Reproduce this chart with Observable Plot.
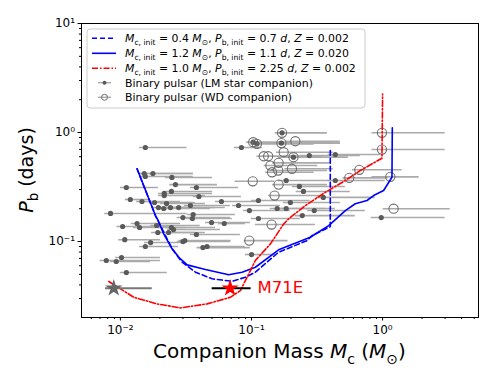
<!DOCTYPE html>
<html><head><meta charset="utf-8">
<script src="https://cdn.jsdelivr.net/npm/d3@7"></script>
<script src="https://cdn.jsdelivr.net/npm/@observablehq/plot@0.6"></script>
<style>body{margin:0;background:#fff;} #chart svg{font-family:"DejaVu Sans",sans-serif;}</style>
</head><body><div id="chart"></div>
<script>
// Binary pulsars with low-mass star companions: mass (Msun), Pb (days), mass range low/high
const lmMass = [0.0155,0.0838,0.0152,0.0155,0.0177,0.0247,0.0111,0.0263,0.0380,0.0216,0.0216,0.0245,0.0397,0.0119,0.0146,0.0182,0.0225,0.0195,0.0214,0.0241,0.0278,0.0342,0.0590,0.0796,0.0964,0.00841,0.0300,0.0359,0.0354,0.0104,0.0134,0.0140,0.0189,0.0245,0.0254,0.0193,0.0233,0.0496,0.0620,0.0108,0.0170,0.0155,0.0300,0.0310,0.0380,0.0426,0.0458,0.1001,0.0102,0.00781,0.0093,0.0111,0.276,0.436,0.184,0.232,0.249,0.436,0.353,0.113,0.198,0.157,0.184,0.301,0.244,0.113,0.977,0.103,0.110,0.171,0.169,0.209];
const lmPb   = [0.729,0.729,0.421,0.395,0.421,0.387,0.313,0.333,0.313,0.276,0.264,0.288,0.259,0.243,0.233,0.228,0.223,0.205,0.201,0.205,0.205,0.214,0.233,0.214,0.1925,0.181,0.166,0.177,0.1626,0.1374,0.1463,0.1345,0.1403,0.1345,0.1288,0.121,0.121,0.1494,0.1463,0.104,0.0979,0.0900,0.1000,0.102,0.116,0.0880,0.0900,0.0760,0.0714,0.0670,0.0656,0.0520,0.615,0.628,0.363,0.320,0.288,0.363,0.254,0.238,0.228,0.201,0.201,0.1925,0.173,0.1626,0.166,0.815,0.788,0.994,0.80,0.594];
const lmLo   = [0.0140,0.0740,0.0140,0.0142,0.0160,0.0221,0.0100,0.0238,0.0342,0.0195,0.0195,0.0223,0.0360,0.0109,0.0133,0.0165,0.0202,0.0177,0.0193,0.0217,0.0252,0.0308,0.0531,0.0718,0.0867,0.0076,0.0271,0.0323,0.0320,0.0094,0.0121,0.0126,0.0170,0.0221,0.0229,0.0173,0.0211,0.0445,0.0560,0.0097,0.0153,0.0140,0.0271,0.0280,0.0342,0.0384,0.0414,0.0898,0.0092,0.0070,0.0084,0.0100,0.236,0.385,0.160,0.205,0.219,0.385,0.312,0.0998,0.175,0.139,0.163,0.268,0.216,0.0998,0.818,0.092,0.099,0.152,0.139,0.160];
const lmHi   = [0.0322,0.121,0.036,0.036,0.036,0.0505,0.0195,0.055,0.0796,0.0505,0.0445,0.0505,0.0838,0.0170,0.0287,0.0373,0.0445,0.0407,0.0486,0.0531,0.0632,0.0690,0.113,0.166,0.198,0.0322,0.069,0.0753,0.0714,0.0241,0.0287,0.0313,0.0407,0.0531,0.0579,0.0373,0.0445,0.0981,0.0898,0.0202,0.0313,0.0278,0.069,0.070,0.0823,0.0981,0.0898,0.152,0.0202,0.0202,0.0170,0.0228,0.676,0.960,0.399,0.520,0.567,1.048,0.878,0.281,0.476,0.366,0.436,0.738,0.619,0.236,3.00,0.40,0.30,0.378,0.476,0.546];

// Binary pulsars with white-dwarf companions
const wdMass = [0.216,0.176,0.124,0.134,0.1393,0.161,0.1435,0.160,0.2035,0.989,0.989,0.664,0.557,1.145,0.1022,0.161,0.150,0.1423,0.0962,1.213,0.103,0.110,0.171,0.169,0.209];
const wdPb   = [0.832,0.660,0.606,0.606,0.498,0.527,0.432,0.448,0.465,0.994,0.698,0.455,0.384,0.392,0.357,0.333,0.264,0.1432,0.102,0.200,0.815,0.788,0.994,0.80,0.594];
const wdLo   = [0.183,0.155,0.11,0.12,0.125,0.145,0.128,0.143,0.18,0.830,0.830,0.588,0.50,0.83,0.075,0.145,0.135,0.107,0.088,1.01,0.092,0.099,0.152,0.139,0.160];
const wdHi   = [0.476,0.42,0.33,0.35,0.32,0.40,0.30,0.38,0.42,3.00,3.00,1.41,1.1,1.9,0.15,0.38,0.34,0.307,0.19,3.28,0.40,0.30,0.378,0.476,0.546];

// Special objects (stars)
const grayStar = {m: 0.0089, p: 0.0373, lo: 0.0077, hi: 0.0175};
const m71e = {m: 0.0687, p: 0.0373, lo: 0.0501, hi: 0.0993, label: "M71E", labelM: 0.111};

// Evolution tracks
const dashM = [0.0134,0.0185,0.0248,0.0296,0.0374,0.0501,0.0711,0.0898,0.107,0.161,0.265,0.290,0.388,0.399,0.399];
const dashP = [0.4645,0.173,0.0857,0.0646,0.0523,0.0455,0.0432,0.0470,0.0523,0.0798,0.102,0.1135,0.135,0.137,0.684];
const solidM = [0.0134,0.0185,0.0194,0.0214,0.0248,0.0279,0.0323,0.0445,0.0670,0.0848,0.1071,0.161,0.281,0.388,0.520,0.619,0.760,0.854,1.018,1.179,1.186];
const solidP = [0.4645,0.1732,0.156,0.1177,0.0857,0.0718,0.0611,0.0554,0.0495,0.0523,0.0581,0.0839,0.1094,0.140,0.192,0.222,0.238,0.264,0.294,0.389,1.104];
const redM = [0.00816,0.01265,0.0190,0.0287,0.0459,0.0690,0.0823,0.0981,0.107,0.1395,0.176,0.192,0.2575,0.366,0.520,0.676,0.989,1.0];
const redP = [0.0430,0.0308,0.0268,0.0246,0.0268,0.0308,0.0355,0.0542,0.067,0.0952,0.145,0.1615,0.214,0.283,0.363,0.448,0.581,2.25];

const xMajor = [0.01, 0.1, 1];
const yMajor = [0.1, 1, 10];
const supers = {"-2":"10⁻²","-1":"10⁻¹","0":"10⁰","1":"10¹"};

const lm = lmMass.map((m,i)=>({m, p: lmPb[i], lo: lmLo[i], hi: lmHi[i]}));
const wd = wdMass.map((m,i)=>({m, p: wdPb[i], lo: wdLo[i], hi: wdHi[i]}));
const track = (M,P)=>M.map((m,i)=>({m, p: P[i]}));

function minors(lo, hi){ const out=[]; for(let e=lo;e<hi;e++) for(let k=2;k<=9;k++) out.push(k*Math.pow(10,e)); return out; }
const xMinor = minors(-3,1).filter(v=>v>=0.00505 && v<=5.39);
const yMinor = minors(-2,1).filter(v=>v>=0.0201 && v<=10);
const fmt = v => supers[String(Math.round(Math.log10(v)))];

const chart = Plot.plot({
  width: 500, height: 370,
  marginTop: 23, marginRight: 22, marginBottom: 53, marginLeft: 81,
  x: {type: "log", domain: [0.00505, 5.39]},
  y: {type: "log", domain: [0.0201, 10]},
  style: {fontFamily: "DejaVu Sans, sans-serif", fontSize: "12px", color: "#000", background: "#fff"},
  marks: [
    Plot.ruleY(lm, {y: "p", x1: "lo", x2: "hi", stroke: "#aaaaaa", strokeWidth: 1.6}),
    Plot.ruleY(wd, {y: "p", x1: "lo", x2: "hi", stroke: "#aaaaaa", strokeWidth: 1.6}),
    Plot.dot(lm, {x: "m", y: "p", r: 2.6, fill: "#5a5a5a"}),
    Plot.dot(wd, {x: "m", y: "p", r: 4.6, stroke: "#6e6e6e", strokeWidth: 1.1, fill: "none"}),
    Plot.line(track(dashM, dashP), {x: "m", y: "p", stroke: "#0000ff", strokeWidth: 1.6, strokeDasharray: "5,3"}),
    Plot.line(track(solidM, solidP), {x: "m", y: "p", stroke: "#0000ff", strokeWidth: 1.6}),
    Plot.line(track(redM, redP), {x: "m", y: "p", stroke: "#ff0000", strokeWidth: 1.6, strokeDasharray: "6,2,1.5,2"}),
    Plot.ruleY([grayStar], {y: "p", x1: "lo", x2: "hi", stroke: "#777", strokeWidth: 1.8}),
    Plot.dot([grayStar], {x: "m", y: "p", symbol: "star", r: 4, fill: "#666", stroke: "#666"}),
    Plot.ruleY([m71e], {y: "p", x1: "lo", x2: "hi", stroke: "#000", strokeWidth: 1.8}),
    Plot.dot([m71e], {x: "m", y: "p", symbol: "star", r: 4, fill: "#ff0000", stroke: "#ff0000"}),
    Plot.text([m71e], {x: "labelM", y: "p", text: "label", fill: "#ff0000", fontSize: 16.5, textAnchor: "start", dy: -1}),
    Plot.frame({stroke: "#000", strokeWidth: 1}),
    Plot.axisX({ticks: xMinor, tickSize: 2, tickFormat: () => "", label: null}),
    Plot.axisX({ticks: xMajor, tickSize: 3.5, tickPadding: 4, tickFormat: fmt, label: null}),
    Plot.axisY({ticks: yMinor, tickSize: 2, tickFormat: () => "", label: null}),
    Plot.axisY({ticks: yMajor, tickSize: 3.5, tickPadding: 3, tickFormat: fmt, label: null})
  ]
});
document.getElementById("chart").appendChild(chart);

// math-style text helper
function mathText(g, x, y, size, parts, opts = {}) {
  const t = g.append("text").attr("x", x).attr("y", y).attr("font-size", size).attr("fill", "#000")
    .attr("text-anchor", opts.anchor || "start");
  if (opts.transform) t.attr("transform", opts.transform);
  let sub = false;
  const shift = size * 0.28;
  for (const p of parts) {
    const s = t.append("tspan").text(p.t);
    if (p.it) s.attr("font-style", "italic");
    if (p.sub) s.attr("font-size", size * 0.7);
    if (p.sub && !sub) s.attr("dy", shift);
    if (!p.sub && sub) s.attr("dy", -shift);
    sub = !!p.sub;
  }
  return t;
}

const svg = d3.select(chart);
const g = svg.append("g");
mathText(g, 279.5, 358, 20, [{t: "Companion Mass "}, {t: "M", it: 1}, {t: "c", sub: 1}, {t: " ("}, {t: "M", it: 1}, {t: "⊙", sub: 1}, {t: ")"}], {anchor: "middle"});
mathText(g, 0, 0, 19, [{t: "P", it: 1}, {t: "b", sub: 1}, {t: " (days)"}], {anchor: "middle", transform: "translate(33,170) rotate(-90)"});

// legend
const L = svg.append("g");
L.append("rect").attr("x", 87).attr("y", 29).attr("width", 278).attr("height", 79).attr("rx", 3)
  .attr("fill", "#fff").attr("fill-opacity", 0.85).attr("stroke", "#cccccc").attr("stroke-width", 1);
const rows = [38.3, 53.3, 68.3, 82.7, 97.3];
const fs = 10.9;
L.append("line").attr("x1", 92).attr("x2", 116).attr("y1", rows[0]).attr("y2", rows[0]).attr("stroke", "#0000ff").attr("stroke-width", 1.6).attr("stroke-dasharray", "5,3");
L.append("line").attr("x1", 92).attr("x2", 116).attr("y1", rows[1]).attr("y2", rows[1]).attr("stroke", "#0000ff").attr("stroke-width", 1.6);
L.append("line").attr("x1", 92).attr("x2", 116).attr("y1", rows[2]).attr("y2", rows[2]).attr("stroke", "#ff0000").attr("stroke-width", 1.6).attr("stroke-dasharray", "6,2,1.5,2");
L.append("line").attr("x1", 98).attr("x2", 111).attr("y1", rows[3]).attr("y2", rows[3]).attr("stroke", "#aaa").attr("stroke-width", 1.4);
L.append("circle").attr("cx", 104.5).attr("cy", rows[3]).attr("r", 2).attr("fill", "#5a5a5a");
L.append("line").attr("x1", 98).attr("x2", 111).attr("y1", rows[4]).attr("y2", rows[4]).attr("stroke", "#aaa").attr("stroke-width", 1.4);
L.append("circle").attr("cx", 104.5).attr("cy", rows[4]).attr("r", 3).attr("fill", "none").attr("stroke", "#6e6e6e");
const track_label = (mc, pb, z) => [
  {t: "M", it: 1}, {t: "c, init", sub: 1}, {t: " = " + mc + " "}, {t: "M", it: 1}, {t: "⊙", sub: 1}, {t: ", "},
  {t: "P", it: 1}, {t: "b, init", sub: 1}, {t: " = " + pb + " "}, {t: "d", it: 1}, {t: ", "}, {t: "Z", it: 1}, {t: " = " + z}
];
mathText(L, 125, rows[0] + 3.8, fs, track_label("0.4", "0.7", "0.002"));
mathText(L, 125, rows[1] + 3.8, fs, track_label("1.2", "1.1", "0.020"));
mathText(L, 125, rows[2] + 3.8, fs, track_label("1.0", "2.25", "0.002"));
mathText(L, 125, rows[3] + 3.8, fs, [{t: "Binary pulsar (LM star companion)"}]);
mathText(L, 125, rows[4] + 3.8, fs, [{t: "Binary pulsar (WD companion)"}]);
</script>
</body></html>
